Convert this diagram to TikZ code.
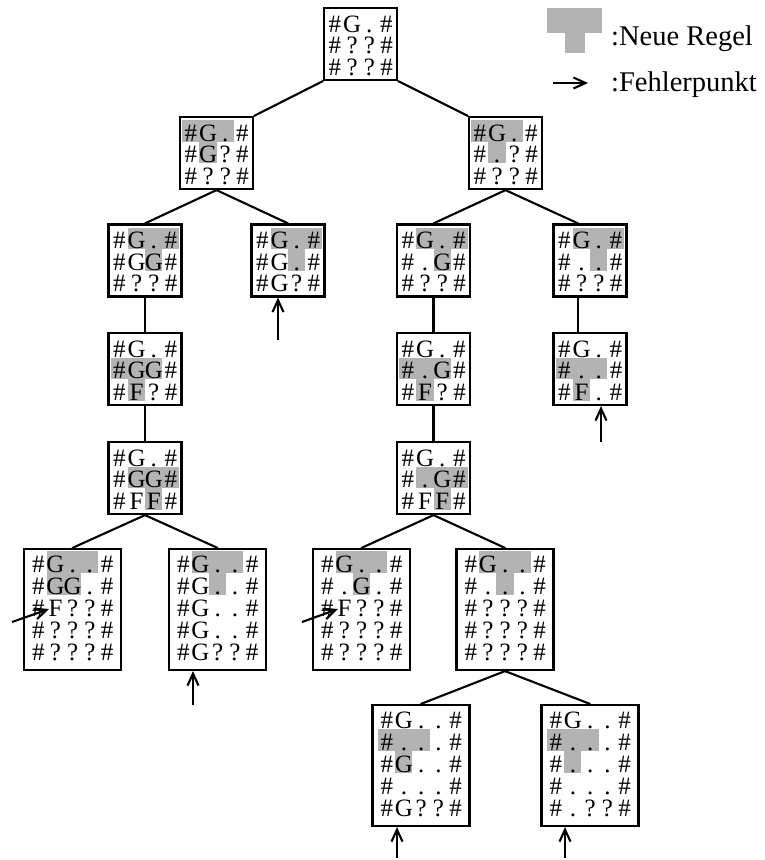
\documentclass[tikz,border=0pt]{standalone}
\usepackage{fontspec}
\setmainfont{Liberation Serif}
\newfontfamily\boardfont{Liberation Serif}
\usetikzlibrary{arrows.meta,calc}

\definecolor{ruleGray}{RGB}{179,179,179}

% cell pitch of the board glyphs
\def\cw{17.2}
% letter codes: d = dot, q = question mark
\newcommand\glyphof[1]{\ifx d#1.\else\ifx q#1?\else#1\fi\fi}
\def\cellsrow#1{\ifx\relax#1\else\makebox[\cw pt]{\glyphof{#1}}\expandafter\cellsrow\fi}
% one board line: wall, inner cells, wall, with a strut fixing the line height
\newcommand\boardrow[1]{\rule{0pt}{\rowht pt}\makebox[\cw pt]{\#}\expandafter\cellsrow#1\relax\makebox[\cw pt]{\#}}

\tikzset{
  box/.style={draw, line width=2.2pt, inner sep=0pt, fill=white},
  rule/.style={fill=ruleGray},
  glyphs/.style={inner sep=0pt, anchor=north west, align=left},
  link/.style={line width=2.1pt, line cap=round},
  fault/.style={line width=2.1pt, -{Straight Barb[length=12pt,width=11pt]}},
  legendtext/.style={inner sep=0pt, anchor=base west, font=\fontsize{28.5}{30}\selectfont}
}

% #1 name, #2 centre x, #3 top y, #4 columns, #5 inner rows, #6 shaded cells col/row
\newcommand\board[6]{%
  \ifnum#4=4
    \def\bw{73}\def\bh{72}\def\rh{21.5}\def\toff{3}%
  \else
    \def\bw{97}\def\bh{121}\def\rh{22}\def\toff{2}%
  \fi
  \pgfmathsetmacro\rowht{\rh-0.5}%
  \node[box, minimum width=\bw pt, minimum height=\bh pt] (#1) at ({#2},{#3+\bh/2}) {};
  \pgfmathsetmacro\gx{#2-#4*\cw/2}%
  \pgfmathsetmacro\gy{#3+\toff}%
  \if\relax\detokenize{#6}\relax\else
    \foreach \cc/\rr in {#6}{\fill[rule] ({\gx+\cc*\cw},{\gy+\rr*\rh}) rectangle ++(\cw,\rh);}
  \fi
  \gdef\boardtext{}%
  \foreach \txt [count=\k] in {#5}{%
    \ifnum\k=1
      \xdef\boardtext{\noexpand\boardrow{\txt}}%
    \else
      \xdef\boardtext{\unexpanded\expandafter{\boardtext}\noexpand\\\noexpand\boardrow{\txt}}%
    \fi}%
  \node[glyphs, font=\boardfont\fontsize{25}{\rh}\selectfont] (#1-t) at ({\gx},{\gy}) {\boardtext};
}

\begin{document}
\begin{tikzpicture}[x=1pt, y=-1pt]
\useasboundingbox (0,0) rectangle (764,860);

% search tree
\board{N0}{360.5}{8}{4}{Gd,qq,qq}{}
\board{N1}{216.5}{117}{4}{Gd,Gq,qq}{0/0,1/0,2/0,1/1}
\board{N2}{505.5}{117}{4}{Gd,dq,qq}{0/0,1/0,2/0,1/1}
\board{N3}{145}{224.5}{4}{Gd,GG,qq}{1/0,2/0,3/0,2/1}
\board{N4}{288}{224.5}{4}{Gd,Gd,Gq}{1/0,2/0,3/0,2/1}
\board{N5}{433.5}{224.5}{4}{Gd,dG,qq}{1/0,2/0,3/0,2/1}
\board{N6}{590}{224.5}{4}{Gd,dd,qq}{1/0,2/0,3/0,2/1}
\board{N7}{145}{333}{4}{Gd,GG,Fq}{0/1,1/1,2/1,1/2}
\board{N8}{433.5}{333}{4}{Gd,dG,Fq}{0/1,1/1,2/1,1/2}
\board{N9}{590}{333}{4}{Gd,dd,Fd}{0/1,1/1,2/1,1/2}
\board{N10}{145}{442}{4}{Gd,GG,FF}{1/1,2/1,3/1,2/2}
\board{N11}{433.5}{442}{4}{Gd,dG,FF}{1/1,2/1,3/1,2/2}
\board{N12}{72.5}{549}{5}{Gdd,GGd,Fqq,qqq,qqq}{1/0,2/0,3/0,1/1,2/1}
\board{N13}{217.5}{549}{5}{Gdd,Gdd,Gdd,Gdd,Gqq}{1/0,2/0,3/0,2/1}
\board{N14}{361.5}{549}{5}{Gdd,dGd,Fqq,qqq,qqq}{1/0,2/0,3/0,2/1}
\board{N15}{505}{549}{5}{Gdd,ddd,qqq,qqq,qqq}{1/0,2/0,3/0,2/1}
\board{N16}{421}{705}{5}{Gdd,ddd,Gdd,ddd,Gqq}{0/1,1/1,2/1,1/2}
\board{N17}{590}{705}{5}{Gdd,ddd,ddd,ddd,dqq}{0/1,1/1,2/1,1/2}

% tree edges
\draw[link] (N0.south west) -- (N1.north east);
\draw[link] (N0.south east) -- (N2.north west);
\draw[link] (N1.south) -- (N3.north);
\draw[link] (N1.south) -- (N4.north);
\draw[link] (N2.south) -- (N5.north);
\draw[link] (N2.south) -- ([xshift=-12pt]N6.north);
\draw[link] (N3.south) -- (N7.north);
\draw[link] (N7.south) -- (N10.north);
\draw[link] (N5.south) -- (N8.north);
\draw[link] (N8.south) -- (N11.north);
\draw[link] ([xshift=-12pt]N6.south) -- ([xshift=-12pt]N9.north);
\draw[link] (N10.south) -- (N12.north);
\draw[link] (N10.south) -- (N13.north);
\draw[link] (N11.south) -- (N14.north);
\draw[link] (N11.south) -- (N15.north);
\draw[link] (N15.south) -- (N16.north);
\draw[link] (N15.south) -- (N17.north);

% fault markers
\coordinate (f4) at (278,340);
\draw[fault] (f4) -- (f4 |- N4.south);
\coordinate (f9) at (601,442);
\draw[fault] (f9) -- (f9 |- N9.south);
\coordinate (f13) at (193,705);
\draw[fault] (f13) -- (f13 |- N13.south);
\coordinate (f16) at (397,858);
\draw[fault] (f16) -- (f16 |- N16.south);
\coordinate (f17) at (565,858);
\draw[fault] (f17) -- (f17 |- N17.south);
\coordinate (f12) at (12,622);
\draw[fault] (f12) -- ($(N12-t.north west)+(19.5,58)$);
\coordinate (f14) at (302,622);
\draw[fault] (f14) -- ($(N14-t.north west)+(19.5,58)$);

% legend
\fill[rule] (547,8) rectangle (602,33);
\fill[rule] (565,33) rectangle (585,53);
\node[legendtext] (lg1) at (611,45.5) {:Neue Regel};
\coordinate (la) at (553,83);
\coordinate (lb) at (588,83);
\draw[fault] (la) -- (lb);
\node[legendtext] (lg2) at (611,91.5) {:Fehlerpunkt};
\end{tikzpicture}
\end{document}
